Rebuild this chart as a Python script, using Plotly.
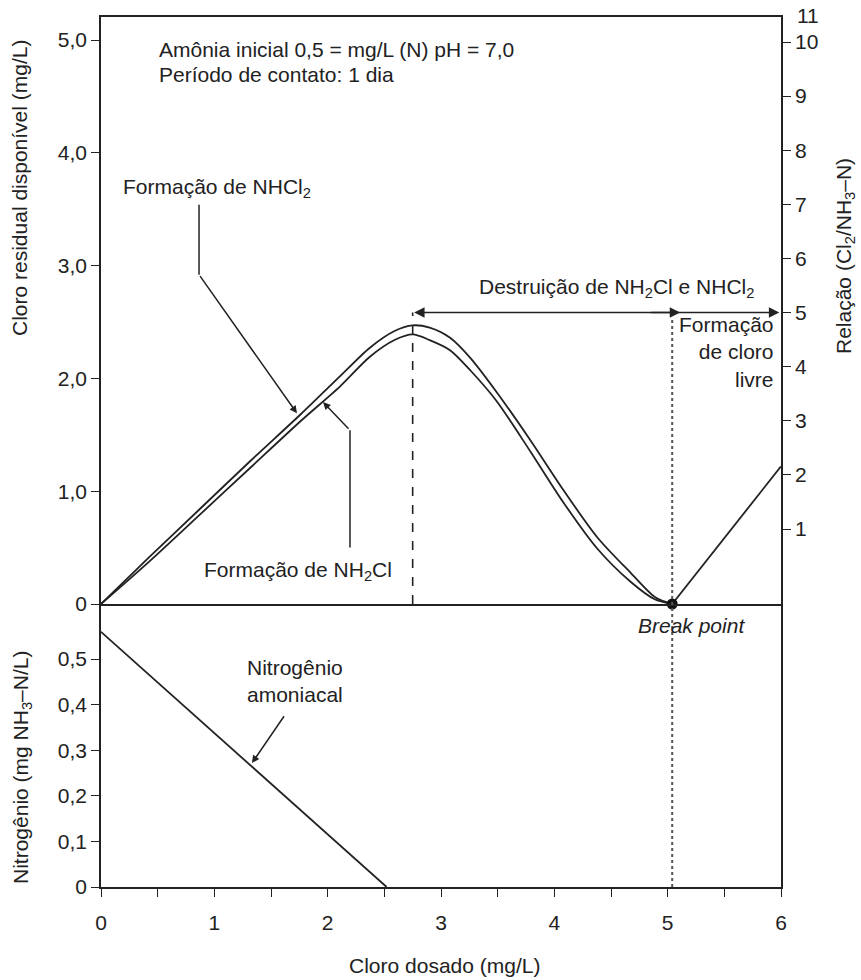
import plotly.graph_objects as go

# ---------------- data ----------------
dose = [0, 0.43, 0.87, 1.32, 1.76, 2.11, 2.37, 2.59, 2.75, 2.90, 3.08, 3.26, 3.49, 3.79, 4.08, 4.38, 4.67, 4.89, 5.04]
nhcl2 = [0, 0.42, 0.84, 1.27, 1.68, 2.02, 2.27, 2.42, 2.47, 2.45, 2.36, 2.18, 1.88, 1.45, 1.01, 0.59, 0.28, 0.06, 0]
nh2cl = [0, 0.38, 0.79, 1.21, 1.62, 1.93, 2.19, 2.34, 2.39, 2.34, 2.25, 2.07, 1.80, 1.35, 0.90, 0.49, 0.20, 0.04, 0]

free_dose = [5.04, 6.0]
free_cl = [0, 1.22]

nit_dose = [0, 2.52]
nit_val = [0.56, 0]

peak_dose = 2.75
break_dose = 5.04
break_val = [0]

x_ticks = [0, 1, 2, 3, 4, 5, 6]
x_ticktext = ["0", "1", "2", "3", "4", "5", "6"]
left_ticks = [0, 1, 2, 3, 4, 5]
left_ticktext = ["0", "1,0", "2,0", "3,0", "4,0", "5,0"]
right_ticks = [1, 2, 3, 4, 5, 6, 7, 8, 9, 10]
n_ticks = [0, 0.1, 0.2, 0.3, 0.4, 0.5]
n_ticktext = ["0", "0,1", "0,2", "0,3", "0,4", "0,5"]

# ---------------- style ----------------
INK = "#222222"
FONT = "Liberation Sans, Arial, sans-serif"
FS = 21
LW = 1.8

fig = go.Figure()

fig.add_trace(go.Scatter(x=dose, y=nhcl2, mode="lines", xaxis="x", yaxis="y",
                         line=dict(color=INK, width=LW, shape="spline", smoothing=0.8),
                         name="NHCl2", showlegend=False, hoverinfo="skip"))
fig.add_trace(go.Scatter(x=dose, y=nh2cl, mode="lines", xaxis="x", yaxis="y",
                         line=dict(color=INK, width=LW, shape="spline", smoothing=0.8),
                         name="NH2Cl", showlegend=False, hoverinfo="skip"))
fig.add_trace(go.Scatter(x=free_dose, y=free_cl, mode="lines", xaxis="x", yaxis="y",
                         line=dict(color=INK, width=LW),
                         name="Cloro livre", showlegend=False, hoverinfo="skip"))
fig.add_trace(go.Scatter(x=[break_dose], y=break_val, mode="markers", xaxis="x", yaxis="y",
                         marker=dict(color="#111111", size=11),
                         name="Break point", showlegend=False, hoverinfo="skip", cliponaxis=False))
fig.add_trace(go.Scatter(x=nit_dose, y=nit_val, mode="lines", xaxis="x2", yaxis="y3",
                         line=dict(color=INK, width=LW),
                         name="Nitrogênio", showlegend=False, hoverinfo="skip"))

split = 283 / 870.0
Y2MIN, Y2MAX = -0.386, 10.462

axis_common = dict(showgrid=False, zeroline=False, showline=True, linecolor=INK, linewidth=1.6,
                   tickfont=dict(family=FONT, size=FS, color=INK), tickcolor=INK, tickwidth=1.4)

fig.update_layout(
    width=861, height=980,
    margin=dict(l=101, r=80, t=17, b=93),
    paper_bgcolor="white", plot_bgcolor="white",
    font=dict(family=FONT, size=FS, color=INK),
    xaxis=dict(domain=[0, 1], anchor="y", range=[0, 6], showticklabels=False, ticks="",
               mirror=True, **axis_common),
    yaxis=dict(domain=[split, 1], anchor="x", range=[0, 5.204], tickvals=left_ticks,
               ticktext=left_ticktext, ticks="outside", ticklen=8, mirror=True, **axis_common),
    yaxis2=dict(overlaying="y", side="right", anchor="x", range=[Y2MIN, Y2MAX],
                tickvals=right_ticks, ticks="outside", ticklen=8, **axis_common),
    xaxis2=dict(domain=[0, 1], anchor="y3", range=[0, 6], tickvals=x_ticks, ticktext=x_ticktext,
                ticks="outside", ticklen=8, mirror=False, ticklabelstandoff=8,
                minor=dict(dtick=0.5, tick0=0, ticks="outside", ticklen=8, tickcolor=INK, tickwidth=1.4),
                **axis_common),
    yaxis3=dict(domain=[0, split], anchor="x2", range=[0, 0.621], tickvals=n_ticks,
                ticktext=n_ticktext, ticks="outside", ticklen=8, mirror=True, **axis_common),
)

# reference lines
fig.add_shape(type="line", xref="x", yref="y2", x0=peak_dose, x1=peak_dose, y0=Y2MIN, y1=5,
              line=dict(color=INK, width=1.6, dash="dash"))
fig.add_shape(type="line", xref="x", yref="paper", x0=break_dose, x1=break_dose, y0=0, y1=0.652,
              line=dict(color="#555555", width=2, dash="dot"))

# leader line segments
fig.add_shape(type="line", xref="x", yref="y", x0=0.865, x1=0.865, y0=3.54, y1=2.92,
              line=dict(color=INK, width=1.5))
fig.add_shape(type="line", xref="x", yref="y", x0=2.197, x1=2.197, y0=0.50, y1=1.54,
              line=dict(color=INK, width=1.5))

ann = []
# double arrow at ratio 5
ann.append(dict(x=5.985, y=5, xref="x", yref="y2", ax=peak_dose, ay=5, axref="x", ayref="y2",
                text="", showarrow=True, arrowhead=2, startarrowhead=2, arrowside="end+start",
                arrowsize=1.3, startarrowsize=1.3, arrowwidth=1.6, arrowcolor=INK))
ann.append(dict(x=break_dose + 0.07, y=5, xref="x", yref="y2", ax=break_dose - 0.2, ay=5,
                axref="x", ayref="y2", text="", showarrow=True, arrowhead=2, arrowsize=1.3,
                arrowwidth=1.6, arrowcolor=INK))
# leader arrows
ann.append(dict(x=1.729, y=1.69, xref="x", yref="y", ax=0.865, ay=2.92, axref="x", ayref="y",
                text="", showarrow=True, arrowhead=2, arrowsize=1, arrowwidth=1.5, arrowcolor=INK))
ann.append(dict(x=1.959, y=1.79, xref="x", yref="y", ax=2.197, ay=1.54, axref="x", ayref="y",
                text="", showarrow=True, arrowhead=2, arrowsize=1, arrowwidth=1.5, arrowcolor=INK))
ann.append(dict(x=1.332, y=0.272, xref="x2", yref="y3", ax=1.624, ay=0.378, axref="x2", ayref="y3",
                text="", showarrow=True, arrowhead=2, arrowsize=1, arrowwidth=1.5, arrowcolor=INK))


def px_to_paper(px, py):
    return (px - 101) / 680.0, (887 - py) / 870.0


def label(text, px, py, xanchor="center", size=FS, angle=0, align="center"):
    x, y = px_to_paper(px, py)
    ann.append(dict(x=x, y=y, xref="paper", yref="paper", text=text, showarrow=False,
                    xanchor=xanchor, yanchor="middle", align=align, textangle=angle,
                    font=dict(family=FONT, size=size, color=INK)))


label("Amônia inicial 0,5 = mg/L (N) pH = 7,0", 157, 50, xanchor="left")
label("Período de contato: 1 dia", 157, 74, xanchor="left")
label("Formação de NHCl<sub>2</sub>", 217, 188)
label("Formação de NH<sub>2</sub>Cl", 298, 571)
label("Destruição de NH<sub>2</sub>Cl e NHCl<sub>2</sub>", 616, 288)
label("Formação<br>de cloro<br>livre", 776, 352, xanchor="right", align="right")
label("<i>Break point</i>", 691, 625)
label("Nitrogênio<br>amoniacal", 295, 681)
label("11", 808, 15, xanchor="center")
label("Cloro dosado (mg/L)", 444, 966)
label("Cloro residual disponível (mg/L)", 20, 188, angle=-90)
label("Relação (Cl<sub>2</sub>/NH<sub>3</sub>–N)", 845, 256, angle=-90)
label("Nitrogênio (mg NH<sub>3</sub>–N/L)", 22, 768, angle=-90)

fig.update_layout(annotations=ann)

fig.write_html("out.html", config={"displayModeBar": False},
               post_script="document.body.style.margin='0';document.body.style.padding='0';")
